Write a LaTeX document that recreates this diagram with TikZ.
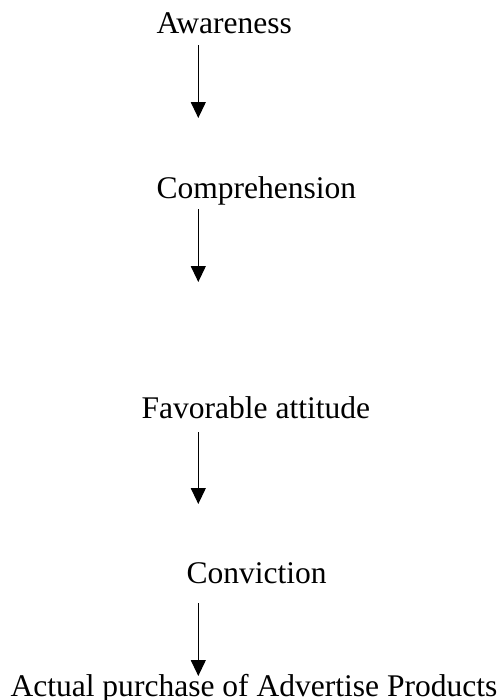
\documentclass[tikz,border=0pt]{standalone}
\usepackage{fontspec}
\setmainfont{Liberation Serif}
\usetikzlibrary{arrows.meta}

\tikzset{
  stage/.style={anchor=base west, inner sep=0pt, font=\fontsize{12.3}{14}\selectfont},
  flow/.style={-{Triangle[length=6.2pt,width=5.8pt]}, line width=0.5pt}
}

\begin{document}
\begin{tikzpicture}[x=0.39pt,y=0.39pt,yscale=-1,xscale=1]
\useasboundingbox (0,0) rectangle (501,700);

%Text: stages
\node [stage] (aware) at (156,33) {Awareness};
\node [stage] (compr) at (156,198) {Comprehension};
\node [stage] (favor) at (141,418) {Favorable attitude};
\node [stage] (convi) at (186,583) {Conviction};
\node [stage] (purch) at (10,696) {Actual purchase of Advertise Products};

%Arrow ends
\coordinate (a1) at (198.3,45);   \coordinate (b1) at (198.3,118);
\coordinate (a2) at (198.3,209);  \coordinate (b2) at (198.3,282);
\coordinate (a3) at (198.3,432);  \coordinate (b3) at (198.3,504);
\coordinate (a4) at (198.3,603);  \coordinate (b4) at (198.3,676);

%Straight Lines
\draw [flow] (a1) -- (b1) ;
\draw [flow] (a2) -- (b2) ;
\draw [flow] (a3) -- (b3) ;
\draw [flow] (a4) -- (b4) ;

\end{tikzpicture}
\end{document}
